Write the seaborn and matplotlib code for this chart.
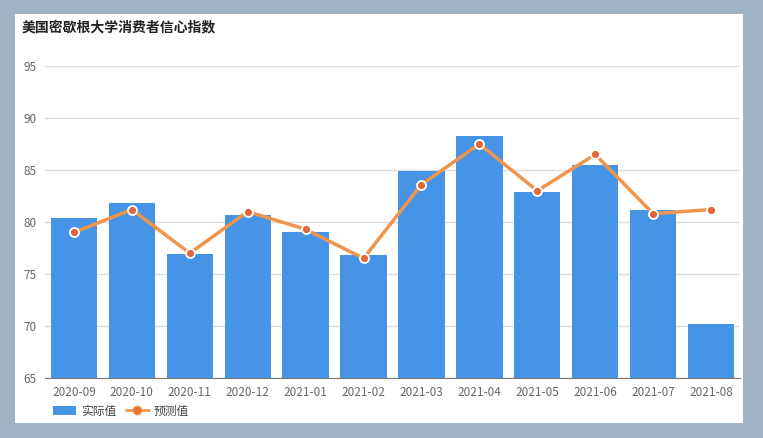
import numpy as np
import pandas as pd
import matplotlib.pyplot as plt
import seaborn as sns
from matplotlib.patches import Rectangle, Patch
from matplotlib.lines import Line2D

# data
months = ['2020-09', '2020-10', '2020-11', '2020-12', '2021-01', '2021-02',
          '2021-03', '2021-04', '2021-05', '2021-06', '2021-07', '2021-08']
actual = [80.4, 81.8, 76.9, 80.7, 79.0, 76.8, 84.9, 88.3, 82.9, 85.5, 81.2, 70.2]
forecast = [79.0, 81.2, 77.0, 81.0, 79.3, 76.5, 83.6, 87.5, 83.0, 86.5, 80.8, 81.2]
yticks = [65, 70, 75, 80, 85, 90, 95]

df = pd.DataFrame({'month': months, 'actual': actual, 'forecast': forecast})

sns.set_style('white')
plt.rcParams['font.family'] = ['Noto Sans CJK SC', 'DejaVu Sans']

bar_c = '#4694e6'
line_c = '#f0944c'

fig = plt.figure(figsize=(7.63, 4.38), dpi=100, facecolor='#9fb3c6')
# white card behind the chart
fig.patches.append(Rectangle((15 / 763, 15 / 438), 728 / 763, 409 / 438,
                             transform=fig.transFigure, facecolor='white',
                             edgecolor='none', zorder=-5))

ax = fig.add_axes([45 / 763, 60 / 438, 695 / 763, 312 / 438])
ax.set_facecolor('white')

sns.barplot(data=df, x='month', y='actual', color=bar_c, width=0.8,
            saturation=1, linewidth=0, edgecolor='none', ax=ax, zorder=2)
ax.plot(range(len(months)), df['forecast'], color=line_c, lw=2.5, zorder=3)
ax.plot(range(len(months)), df['forecast'], 'o', ms=6.5, mfc='#e0683a',
        mec='white', mew=1.3, zorder=4)

ax.set_ylim(65, 95)
ax.set_yticks(yticks)
ax.set_xlim(-0.5, len(months) - 0.5)
ax.yaxis.grid(True, color='#dddddd', lw=1, zorder=0)
ax.set_axisbelow(True)
for s in ['top', 'right', 'left']:
    ax.spines[s].set_visible(False)
ax.spines['bottom'].set_color('#777777')
ax.tick_params(axis='both', labelsize=8.5, colors='#666666', length=0, pad=6)
ax.set_xlabel('')
ax.set_ylabel('')

fig.text(22 / 763, 1 - 27 / 438, '美国密歇根大学消费者信心指数', fontsize=10,
         fontweight='bold', color='#222222', va='center')

handles = [Patch(facecolor=bar_c, edgecolor='none', label='实际值'),
           Line2D([0], [0], color=line_c, lw=2, marker='o', ms=6,
                  mfc='#e9702f', mec=line_c, label='预测值')]
fig.legend(handles=handles, loc='center left', ncol=2, frameon=False,
           bbox_to_anchor=(42 / 763, 1 - 411 / 438), fontsize=8.5,
           handlelength=2.0, handleheight=0.9, columnspacing=0.8,
           handletextpad=0.4, labelcolor='#444444')

fig.savefig('out.png', dpi=100, facecolor=fig.get_facecolor())
